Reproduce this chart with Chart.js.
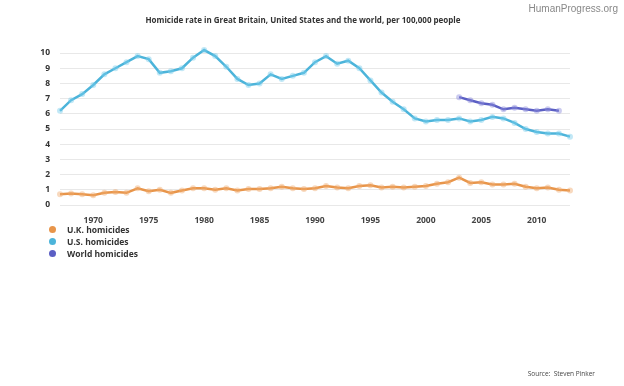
<!DOCTYPE html>
<html>
<head>
<meta charset="utf-8">
<script src="https://cdn.jsdelivr.net/npm/chart.js@4/dist/chart.umd.min.js"></script>
<style>
    body { margin: 0; background: #fff; font-family: "Open Sans", sans-serif; }
    #wrap { position: relative; width: 624px; height: 386px; }
    #chart { position: absolute; left: 0; top: 0; }
    .title { position: absolute; top: 14px; left: 0; width: 606px; text-align: center; font-size: 8px; font-weight: bold; color: #333; }
    .brand { position: absolute; top: 3px; right: 6px; font-size: 10px; color: #888; font-family: "Liberation Sans", sans-serif; }
    .source { position: absolute; top: 369px; right: 29px; font-size: 6.5px; color: #444; }
    #legend { position: absolute; left: 49px; top: 223px; }
    .legend-item { height: 12.3px; font-size: 8.5px; font-weight: bold; color: #333; display: flex; align-items: center; }
    .legend-dot { width: 7px; height: 7px; border-radius: 50%; margin-right: 11px; }
</style>
</head>
<body>
<div id="wrap">
    <canvas id="chart" width="624" height="386"></canvas>
    <div class="brand">HumanProgress.org</div>
    <div class="title">Homicide rate in Great Britain, United States and the world, per 100,000 people</div>
    <div id="legend"></div>
    <div class="source">Source:&nbsp; Steven Pinker</div>
</div>
<script>
const years = [1967, 1968, 1969, 1970, 1971, 1972, 1973, 1974, 1975, 1976,
    1977, 1978, 1979, 1980, 1981, 1982, 1983, 1984, 1985, 1986,
    1987, 1988, 1989, 1990, 1991, 1992, 1993, 1994, 1995, 1996,
    1997, 1998, 1999, 2000, 2001, 2002, 2003, 2004, 2005, 2006,
    2007, 2008, 2009, 2010, 2011, 2012, 2013];

const ukHomicides = [0.7, 0.75, 0.7, 0.65, 0.8, 0.85, 0.8, 1.1, 0.9, 1.0,
    0.8, 0.95, 1.1, 1.1, 1.0, 1.1, 0.95, 1.05, 1.05, 1.1,
    1.2, 1.1, 1.05, 1.1, 1.25, 1.15, 1.1, 1.25, 1.3, 1.15,
    1.2, 1.15, 1.2, 1.25, 1.4, 1.5, 1.8, 1.45, 1.5, 1.35,
    1.35, 1.4, 1.2, 1.1, 1.15, 1.0, 0.95];

const usHomicides = [6.2, 6.9, 7.3, 7.9, 8.6, 9.0, 9.4, 9.8, 9.6, 8.7,
    8.8, 9.0, 9.7, 10.2, 9.8, 9.1, 8.3, 7.9, 8.0, 8.6,
    8.3, 8.5, 8.7, 9.4, 9.8, 9.3, 9.5, 9.0, 8.2, 7.4,
    6.8, 6.3, 5.7, 5.5, 5.6, 5.6, 5.7, 5.5, 5.6, 5.8,
    5.7, 5.4, 5.0, 4.8, 4.7, 4.7, 4.5];

// world series only starts in 2003
const worldHomicides = [null, null, null, null, null, null, null, null, null, null,
    null, null, null, null, null, null, null, null, null, null,
    null, null, null, null, null, null, null, null, null, null,
    null, null, null, null, null, null, 7.1, 6.9, 6.7, 6.6,
    6.3, 6.4, 6.3, 6.2, 6.3, 6.2, null];

const yTicks = [0, 1, 2, 3, 4, 5, 6, 7, 8, 9, 10];

const seriesNames = ['U.K. homicides', 'U.S. homicides', 'World homicides'];
const seriesColors = ['#e8954a', '#4cb4da', '#5b5fc4'];
const haloColors = ['rgba(240,170,110,0.45)', 'rgba(120,205,235,0.45)', 'rgba(140,140,220,0.45)'];

function makeDataset(i, values) {
    return {
        label: seriesNames[i],
        data: values,
        borderColor: seriesColors[i],
        borderWidth: 2.5,
        pointRadius: 3,
        pointBorderWidth: 0,
        pointBackgroundColor: haloColors[i],
        tension: 0,
        spanGaps: false
    };
}

const ctx = document.getElementById('chart');

const chart = new Chart(ctx, {
    type: 'line',
    data: {
        labels: years,
        datasets: [
            makeDataset(0, ukHomicides),
            makeDataset(1, usHomicides),
            makeDataset(2, worldHomicides)
        ]
    },
    options: {
        responsive: false,
        animation: false,
        layout: { padding: { left: 0, right: 54, top: 47, bottom: 161 } },
        plugins: {
            legend: { display: false },
            tooltip: { enabled: false }
        },
        scales: {
            x: {
                grid: { display: false },
                border: { display: false },
                afterFit: (scale) => { scale.height = 20; },
                ticks: {
                    autoSkip: false,
                    maxRotation: 0,
                    padding: 2,
                    color: '#444',
                    font: { family: 'Open Sans', size: 8.5, weight: 'bold' },
                    callback: function (value) {
                        const year = years[value];
                        return year % 5 === 0 ? String(year) : null;
                    }
                }
            },
            y: {
                min: 0,
                max: 10.4,
                afterFit: (scale) => { scale.width = 60; },
                afterBuildTicks: (scale) => {
                    scale.ticks = yTicks.map(v => ({ value: v }));
                },
                border: { display: false },
                grid: { color: '#e8e8e8', lineWidth: 1, drawTicks: false },
                ticks: {
                    padding: 10,
                    color: '#333',
                    font: { family: 'Open Sans', size: 8.5, weight: 'bold' }
                }
            }
        }
    }
});

// html legend, stacked like the original
const legend = document.getElementById('legend');
seriesNames.forEach((name, i) => {
    legend.innerHTML += `
        <div class="legend-item">
            <span class="legend-dot" style="background:${seriesColors[i]}"></span>${name}
        </div>`;
});
</script>
</body>
</html>
